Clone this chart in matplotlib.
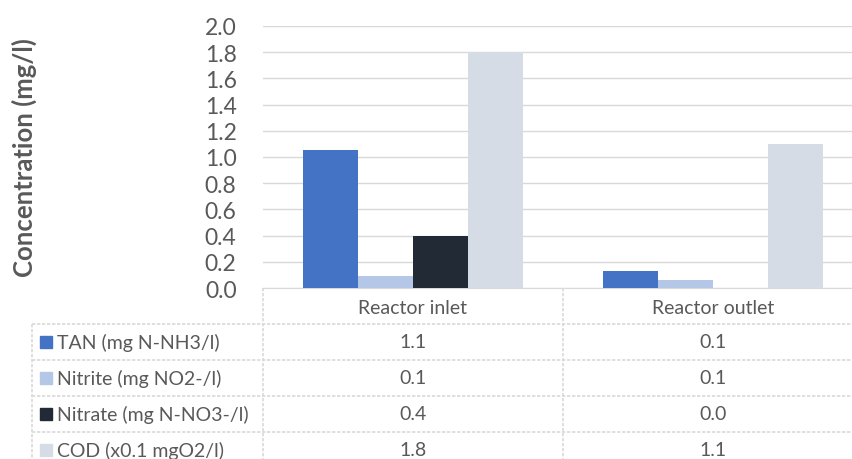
import matplotlib
matplotlib.use("Agg")
import matplotlib.pyplot as plt
from matplotlib.lines import Line2D
from matplotlib.patches import Rectangle
import numpy as np

# data
categories = ["Reactor inlet", "Reactor outlet"]
series = ["TAN (mg N-NH3/l)", "Nitrite (mg NO2-/l)", "Nitrate (mg N-NO3-/l)", "COD (x0.1 mgO2/l)"]
tan = [1.05, 0.13]
nitrite = [0.09, 0.06]
nitrate = [0.40, 0.0]
cod = [1.80, 1.10]
values = [tan, nitrite, nitrate, cod]
colors = ["#4472C4", "#B4C7E7", "#222A35", "#D6DCE5"]
yticks = [0.0, 0.2, 0.4, 0.6, 0.8, 1.0, 1.2, 1.4, 1.6, 1.8, 2.0]

W, H = 853, 460
txt = "#595959"
grid_c = "#D9D9D9"
plt.rcParams['font.family'] = ['Lato', 'DejaVu Sans']

fig = plt.figure(figsize=(W / 100, H / 100), dpi=100)

def fx(x):
    return x / W

def fy(y):
    return 1 - y / H

# plot area in pixels
left, right, top, bottom = 263, 863, 27, 289
ax = fig.add_axes([fx(left), fy(bottom), (right - left) / W, (bottom - top) / H])

x = np.arange(len(categories))
bw = 0.183
for i, (vals, c) in enumerate(zip(values, colors)):
    ax.bar(x + (i - 1.5) * bw, vals, width=bw, color=c, zorder=3)

ax.set_xlim(-0.5, len(categories) - 0.5)
ax.set_ylim(0, 2.0)
ax.set_yticks(yticks)
ax.set_yticklabels([f"{t:.1f}" for t in yticks], fontsize=16.5, color=txt)
ax.tick_params(axis='y', length=0, pad=19)
ax.set_xticks([])
ax.grid(axis='y', color=grid_c, linewidth=1, zorder=0)
for s in ['top', 'right', 'left']:
    ax.spines[s].set_visible(False)
ax.spines['bottom'].set_color(grid_c)

fig.text(fx(24), fy(158), "Concentration (mg/l)", rotation=90, ha='center', va='center',
         fontsize=18.5, fontweight='bold', color=txt)

# data table below the chart
def hline(x0, x1, y):
    fig.add_artist(Line2D([fx(x0), fx(x1)], [fy(y), fy(y)], color=grid_c, lw=1.2, linestyle=(0, (2, 1))))

def vline(xp, y0, y1):
    fig.add_artist(Line2D([fx(xp), fx(xp)], [fy(y0), fy(y1)], color=grid_c, lw=1.2, linestyle=(0, (2, 1))))

row_top = 325
row_h = 36
col_w = (right - left) / len(categories)
vline(left, bottom, H)
vline(left + col_w, bottom, H)
vline(32, row_top, H)
for r in range(len(series)):
    hline(32, W, row_top + r * row_h)

for j, cat in enumerate(categories):
    fig.text(fx(left + col_w * (j + 0.5)), fy((bottom + row_top) / 2 + 1), cat,
             ha='center', va='center', fontsize=14, color=txt)

for r, (name, vals, c) in enumerate(zip(series, values, colors)):
    yc = row_top + r * row_h + row_h / 2
    fig.add_artist(Rectangle((fx(40), fy(yc + 6)), 12 / W, 12 / H, color=c, transform=fig.transFigure))
    fig.text(fx(57), fy(yc), name, ha='left', va='center', fontsize=14, color=txt)
    for j, v in enumerate(vals):
        fig.text(fx(left + col_w * (j + 0.5)), fy(yc), f"{v:.1f}",
                 ha='center', va='center', fontsize=14, color=txt)

fig.savefig("out.png", dpi=100)
